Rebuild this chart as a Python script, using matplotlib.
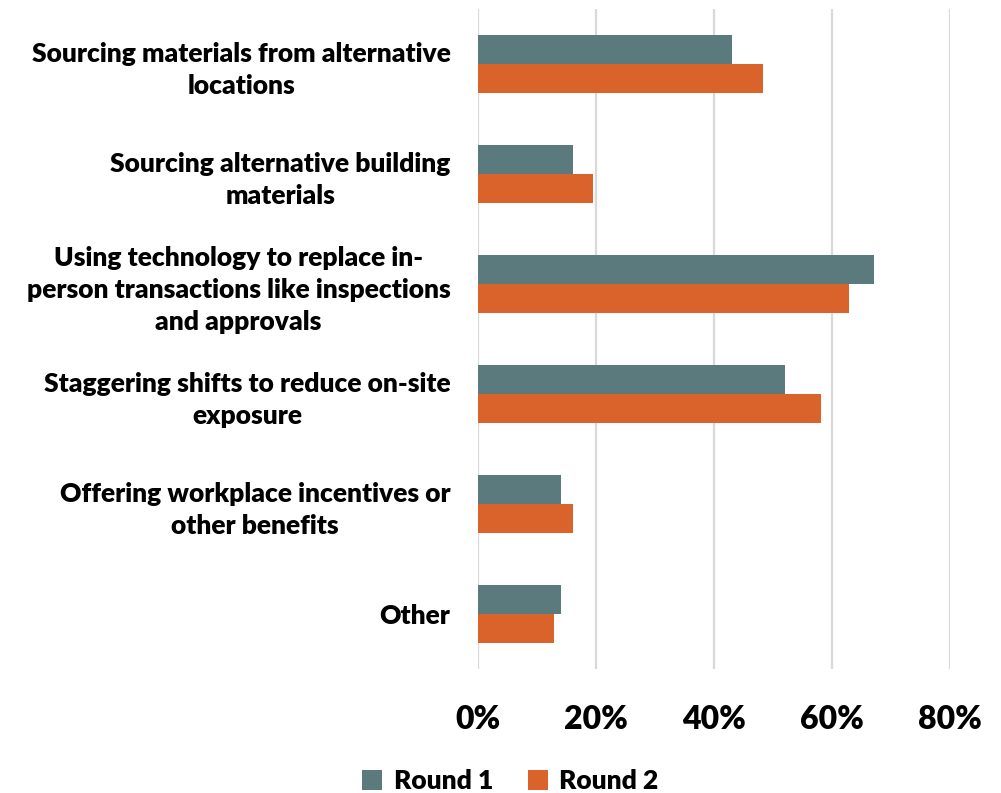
import numpy as np
import matplotlib.pyplot as plt
from matplotlib.ticker import PercentFormatter

plt.rcParams['font.family'] = ['Lato', 'DejaVu Sans']

categories = [
    "Sourcing materials from alternative\nlocations",
    "Sourcing alternative building\nmaterials",
    "Using technology to replace in-\nperson transactions like inspections\nand approvals",
    "Staggering shifts to reduce on-site\nexposure",
    "Offering workplace incentives or\nother benefits",
    "Other",
]
round1 = [43.0, 16.0, 67.1, 52.0, 14.0, 14.0]
round2 = [48.4, 19.4, 62.9, 58.1, 16.1, 12.9]
series_names = ["Round 1", "Round 2"]
colors = ["#5B7A7D", "#D9632A"]

fig = plt.figure(figsize=(10.01, 7.93), dpi=100)
ax = fig.add_axes([0.4778, 0.1564, 0.4708, 0.8323])

y = np.arange(len(categories))
h = 0.26
ax.barh(y - h / 2, round1, height=h, color=colors[0], label=series_names[0], zorder=3)
ax.barh(y + h / 2, round2, height=h, color=colors[1], label=series_names[1], zorder=3)

ax.set_xlim(0, 80)
ax.set_ylim(len(categories) - 0.5, -0.5)
ax.set_xticks([0, 20, 40, 60, 80])
ax.xaxis.set_major_formatter(PercentFormatter(decimals=0))
ax.set_yticks(y)
ax.set_yticklabels(categories, fontsize=19, fontweight='heavy',
                   multialignment='center', linespacing=1.4)

ax.grid(axis='x', color='#D9D9D9', linewidth=1.6, zorder=0)
for s in ax.spines.values():
    s.set_visible(False)
ax.tick_params(axis='y', length=0, pad=20)
ax.tick_params(axis='x', length=0, pad=26, labelsize=23)
for t in ax.get_xticklabels():
    t.set_fontweight('heavy')

fig.legend(loc='lower center', bbox_to_anchor=(0.51, -0.03), ncol=2, frameon=False,
           prop={'size': 19, 'weight': 'heavy'}, handlelength=0.75, handleheight=0.75,
           columnspacing=1.3, handletextpad=0.45)

fig.savefig('out.png', dpi=100)
